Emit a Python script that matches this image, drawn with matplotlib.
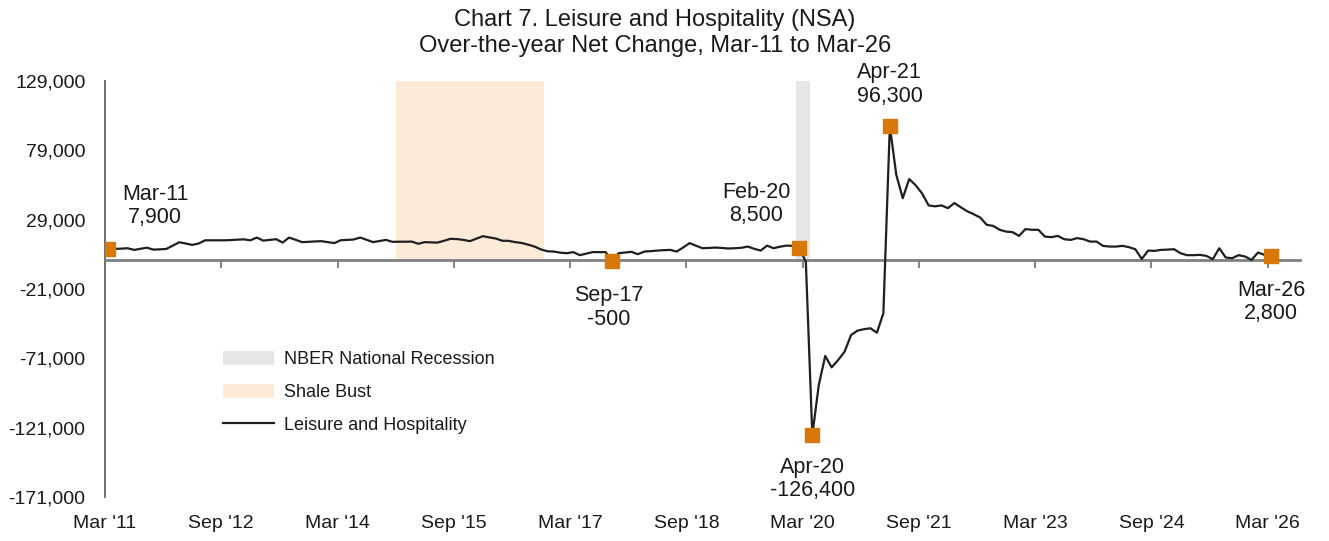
import numpy as np
import pandas as pd
import matplotlib
matplotlib.use("Agg")
import matplotlib.pyplot as plt
from matplotlib.patches import Patch
from matplotlib.lines import Line2D

plt.rcParams['font.family'] = ['Liberation Sans', 'DejaVu Sans']

# monthly over-the-year net change, Mar 2011 .. Mar 2026
months = pd.date_range("2011-03-01", "2026-03-01", freq="MS")
net_change = [
    7900, 7900, 8100, 8400, 7200, 8000, 8800, 7400, 7600, 7900,
    10300, 12700, 11800, 10800, 11800, 14100, 14100, 14100, 14100, 14300,
    14600, 14800, 14100, 16100, 13900, 14400, 14900, 12500, 16100, 14500,
    12800, 13000, 13300, 13500, 12800, 12100, 14200, 14400, 14700, 16100,
    14500, 12800, 13600, 14400, 13000, 13100, 13100, 13200, 11600, 12800,
    12600, 12500, 13800, 15200, 15000, 14400, 13500, 15300, 17100, 16200,
    15400, 13800, 13700, 12800, 12200, 11000, 9600, 7500, 6200, 6000,
    5200, 4800, 5600, 3400, 4500, 5600, 5600, 5600, -500, 4800,
    5300, 5800, 4100, 6000, 6300, 6700, 7000, 7200, 6000, 8900,
    12100, 10200, 8400, 8600, 8900, 8600, 8200, 8400, 8700, 9600,
    8000, 6700, 10300, 8400, 9500, 10300, 10100, 8500, -1500, -126400,
    -90300, -69300, -77500, -72200, -66200, -54200, -51000, -50000, -49300, -52500,
    -38500, 96300, 61400, 44500, 58300, 53800, 47900, 39300, 38600, 39300,
    37300, 41000, 37900, 35000, 32900, 30500, 25300, 24500, 21700, 20400,
    20000, 17300, 22200, 21700, 21700, 16800, 16400, 17300, 14900, 14400,
    15700, 14900, 13200, 13200, 10100, 9600, 9600, 10100, 9200, 7700,
    700, 6700, 6500, 7200, 7400, 7700, 4800, 3400, 3400, 3600,
    2900, 500, 8400, 1700, 1200, 3400, 2400, 0, 5300, 3600,
    2800,
]

labelled = ["2011-03", "2017-09", "2020-02", "2020-04", "2021-04", "2026-03"]
shale_bust = ("2014-12", "2016-10")
recession = ("2020-02", "2020-04")
y_ticks = [-171000, -121000, -71000, -21000, 29000, 79000, 129000]

x = np.arange(len(months))
idx = {d.strftime("%Y-%m"): i for i, d in enumerate(months)}

fig = plt.figure(figsize=(13.29, 5.41), dpi=100)
ax = fig.add_axes([105 / 1329, 1 - 497 / 541, 1195 / 1329, 416 / 541])

ymax, ymin = y_ticks[-1], y_ticks[0]
s0, s1 = idx[shale_bust[0]], idx[shale_bust[1]]
ax.fill_between([s0 - 0.5, s1 + 0.5], 0, ymax, color='#FDEAD7', lw=0, zorder=0)
r0, r1 = idx[recession[0]], idx[recession[1]]
ax.fill_between([r0 - 0.6, r1 - 0.3], 0, ymax, color='#E6E6E6', lw=0, zorder=0)

ax.plot(x, net_change, color='#1f1f1f', lw=1.6, zorder=3)

mark_color = '#D9770B'
offsets = {"2011-03": (47, 43), "2017-09": (-3, -47), "2020-02": (-43, 44),
           "2020-04": (0, -44), "2021-04": (0, 42), "2026-03": (0, -46)}
for d in labelled:
    i = idx[d]
    v = net_change[i]
    ax.plot(i, v, marker='s', ms=10, color=mark_color, mec=mark_color, zorder=4)
    lab = pd.Timestamp(d + "-01").strftime("%b-%y")
    ax.annotate(f"{lab}\n{v:,}", xy=(i, v), xytext=offsets[d],
                textcoords='offset pixels', ha='center', va='center',
                fontsize=15.5, color='#1a1a1a', linespacing=1.15)

ax.set_ylim(ymin, ymax)
ax.set_xlim(-0.5, 184.5)
ax.set_yticks(y_ticks)
ax.set_yticklabels([f"{t:,}" for t in y_ticks])
ax.tick_params(axis='y', length=0, pad=14, labelsize=14, labelcolor='#1a1a1a')

for s in ['top', 'right']:
    ax.spines[s].set_visible(False)
ax.spines['left'].set_color('#6e6e6e')
ax.spines['left'].set_linewidth(1.4)
ax.spines['bottom'].set_position(('data', 0))
ax.spines['bottom'].set_color('#808080')
ax.spines['bottom'].set_linewidth(2)

tick_pos = np.arange(0, len(months), 18)
tick_lab = [months[i].strftime("%b '%y") for i in tick_pos]
ax.set_xticks(tick_pos - 0.5)
ax.tick_params(axis='x', direction='out', length=6, width=1.4, color='#808080',
               labelbottom=False)

sec = ax.secondary_xaxis(0)
sec.set_xticks(tick_pos - 0.5)
sec.set_xticklabels(tick_lab)
sec.tick_params(length=0, pad=13, labelsize=14, labelcolor='#1a1a1a')
sec.spines['bottom'].set_visible(False)

handles = [Patch(facecolor='#E6E6E6', edgecolor='none'),
           Patch(facecolor='#FDEAD7', edgecolor='none'),
           Line2D([0], [0], color='#1f1f1f', lw=1.6)]
names = ["NBER National Recession", "Shale Bust", "Leisure and Hospitality"]
fig.legend(handles, names, loc='upper left', bbox_to_anchor=(214 / 1329, 1 - 342 / 541),
           frameon=False, fontsize=13, handlelength=2.85, handleheight=0.85,
           labelspacing=0.85, handletextpad=0.5, borderpad=0, labelcolor='#1a1a1a')

fig.text(655 / 1329, 1 - 33 / 541,
         "Chart 7. Leisure and Hospitality (NSA)\nOver-the-year Net Change, Mar-11 to Mar-26",
         ha='center', va='center', fontsize=17, color='#1a1a1a', linespacing=1.25)

fig.savefig("out.png", dpi=100)
